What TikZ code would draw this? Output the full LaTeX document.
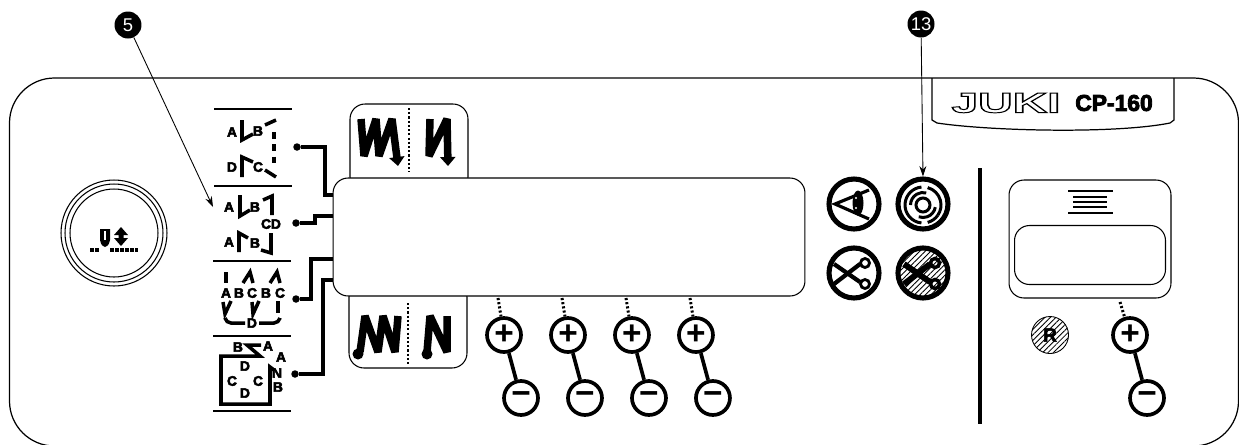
\documentclass[tikz,border=0pt]{standalone}
\usepackage{fontspec}
\setmainfont{Liberation Sans}
\usetikzlibrary{positioning}
\usetikzlibrary{arrows.meta}
\usetikzlibrary{patterns.meta}
\newcommand{\strokedtext}[3][0.3]{\special{pdf:code #2 Tr #1 w}#3\special{pdf:code 0 Tr}}
\tikzset{panel line/.style={line width=0.7pt},}
\tikzset{thin box/.style={rectangle,draw,fill=white,line width=0.6pt,rounded corners=0.3cm,inner sep=0pt},}
\tikzset{knob/.style={circle,draw,fill=white,line width=2.1pt,minimum size=0.68cm,inner sep=0pt,on grid,font=\fontsize{19}{19}\bfseries},}
\tikzset{round icon/.style={circle,draw,line width=2.9pt,minimum size=1cm,inner sep=0pt,on grid},}
\tikzset{badge/.style={circle,fill=black,text=white,minimum size=0.54cm,inner sep=0pt,font=\fontsize{10.5}{10.5}\selectfont},}
\tikzset{strip dot/.style={circle,fill=black,minimum size=0.15cm,inner sep=0pt},}
\tikzset{strip letter/.style={inner sep=0pt,font=\fontsize{7.8}{7.8}\bfseries},}
\tikzset{strip rule/.style={line width=1pt},}
\tikzset{wire/.style={line width=2pt,line join=miter},}
\tikzset{glyph/.style={line width=0.15cm,line join=bevel},}
\tikzset{fine stroke/.style={line width=2pt,line join=miter},}
\tikzset{pointer/.style={line width=0.5pt,-{Stealth[length=0.21cm,width=0.14cm]}},}
\tikzset{dots/.style={line width=1.4pt,dash pattern=on 1.2pt off 1.2pt},}
\tikzset{hatched/.style={pattern={Lines[angle=45,distance=2.2pt,line width=0.5pt]}},}

\begin{document}
\begin{tikzpicture}[x=0.02cm,y=-0.02cm]
     \useasboundingbox (0,0) rectangle (1239,444);

     \draw[panel line,rounded corners=0.9cm] (9.5,78) rectangle (1238.5,446);

     \path[panel line,draw] (932,78) -- (932,120) -- (937,123) .. controls (990,131) and (1115,134) .. (1170,123) -- (1174,120) -- (1174,78);
     \node[font=\fontsize{16}{16}\bfseries] (juki) at (1006,103) {\scalebox{1.7}[1]{\strokedtext[0.55]{1}{JUKI}}};
     \node[font=\fontsize{13}{13}\bfseries] (model) at (1114,103) {\strokedtext[0.5]{2}{CP-160}};

     \node[thin box,minimum width=2.36cm,minimum height=1.76cm] (uppertab) at (409,148) {};
     \node[thin box,minimum width=2.36cm,minimum height=1.72cm] (lowertab) at (408,325) {};
     \node[thin box,minimum width=9.44cm,minimum height=2.36cm] (display) at (569,237) {};
     \draw[dots] (409,108) -- (409,172);
     \draw[dots] (408,303) -- (408,365);

     \draw[glyph,-{Triangle[length=0.18cm,width=0.3cm]}] (361,119) -- (364,156) -- (376,119) -- (379,156) -- (392,119) -- (398,166);
     \draw[glyph,-{Triangle[length=0.18cm,width=0.3cm]}] (430,119) -- (429,156) -- (447,119) -- (448,166);
     \draw[glyph] (360,352) -- (365,316) -- (378,352) -- (383,316) -- (395,352) -- (398,316);
     \draw[glyph] (427,352) -- (430,316) -- (447,352) -- (447,316);
     \fill (358,354) circle (5.5);
     \fill (427,354) circle (5.5);

     \node[badge] (five) at (128,25) {5};
     \node[badge] (thirteen) at (921,24) {13};

     \node[circle,draw,line width=0.6pt,minimum size=2.12cm,inner sep=0pt] (startring) at (114,233) {};
     \node[circle,draw,line width=0.6pt,minimum size=1.96cm,inner sep=0pt] (midring) at (114,233) {};
     \node[circle,draw,line width=0.6pt,minimum size=1.76cm,inner sep=0pt] (innerring) at (114,233) {};
     \fill (100,229) -- (110,229) -- (110,240) .. controls (109,245) and (107,247) .. (105,247) .. controls (103,247) and (101,245) .. (100,240) -- cycle;
     \draw[white,line width=0.6pt] (105,231) -- (105,240);
     \fill (121,227) -- (128,235) -- (123.5,235) -- (123.5,238) -- (128,238) -- (121,246) -- (114,238) -- (118.5,238) -- (118.5,235) -- (114,235) -- cycle;
     \draw[line width=2pt,dash pattern=on 2.2pt off 0.7pt] (90,250) -- (100,250);
     \draw[line width=2pt,dash pattern=on 2.2pt off 0.7pt] (110,250) -- (138,250);

     \draw[strip rule] (214,109) -- (292,109);
     \draw[strip rule] (214,186) -- (292,186);
     \draw[strip rule] (213,261) -- (291,261);
     \draw[strip rule] (213,336) -- (291,336);
     \draw[strip rule] (213,411) -- (291,411);

     \foreach \x/\y/\t [count=\i] in {232/132/A,258/131/B,232/167/D,258/167/C,
       229/207/A,255/207/B,229/242/A,255/243/B,271/224/CD,
       226/293/A,239/293/B,252/293/C,266/293/B,280/293/C,252/323/D,
       238/347/B,268/346/A,281/357/A,277/373/N,278/387/B,245/366/D,232/381/C,258/381/C,245/393/D}
       \node[strip letter] (letter\i) at (\x,\y) {\strokedtext{2}{\t}};

     \draw[fine stroke] (242,120) -- (242,140) -- (253,134);
     \draw[fine stroke] (265,125) -- (276,120);
     \draw[fine stroke,dash pattern=on 4pt off 3pt] (274,132) -- (274,163);
     \draw[fine stroke] (253,162) -- (242,157) -- (242,177);
     \draw[fine stroke] (265,170) -- (276,177);
     \draw[fine stroke] (240,195) -- (240,216) -- (250,210);
     \draw[fine stroke] (263,200) -- (272,196) -- (272,215);
     \draw[fine stroke] (248,238) -- (239,233) -- (239,252);
     \draw[fine stroke] (261,250) -- (271,253) -- (271,233);
     \draw[fine stroke] (226,272) -- (226,283);
     \draw[fine stroke] (243,283) -- (250,272) -- (253,283);
     \draw[fine stroke] (270,283) -- (277,272) -- (280,283);
     \draw[fine stroke] (223,302) -- (225,314) -- (231,301);
     \draw[fine stroke] (252,302) -- (253,314) -- (259,301);
     \draw[fine stroke] (278,301) -- (278,313);
     \draw[fine stroke,rounded corners=0.1cm] (225,318) -- (226,323) -- (245,323);
     \draw[fine stroke,rounded corners=0.1cm] (259,323) -- (279,323) -- (280,318);
     \draw[fine stroke] (261,345) -- (247,345) -- (260,356) -- (221,356) -- (221,404) -- (270,404) -- (270,367) -- (274,370);

     \node[strip dot] (dotone) at (297,147) {};
     \node[strip dot] (dottwo) at (296,223) {};
     \node[strip dot] (dotthree) at (296,299) {};
     \node[strip dot] (dotfour) at (295,374) {};
     \draw[wire] (dotone) -| (325,195) -- (display.west |- 0,195);
     \draw[wire] (dottwo) -| (315,216) -- (display.west |- 0,216);
     \draw[wire] (dotthree) -| (311,259) -- (display.west |- 0,259);
     \draw[wire] (dotfour) -| (323,280) -- (display.west |- 0,280);

     \node[knob] (plusa) at (504,335) {+};
     \node[knob] (plusb) [right = 1.28cm of plusa] {+};
     \node[knob] (plusc) [right = 1.28cm of plusb] {+};
     \node[knob] (plusd) [right = 1.28cm of plusc] {+};
     \node[knob] (minusa) [below right = 1.26cm and 0.34cm of plusa] {−};
     \node[knob] (minusb) [right = 1.28cm of minusa] {−};
     \node[knob] (minusc) [right = 1.28cm of minusb] {−};
     \node[knob] (minusd) [right = 1.28cm of minusc] {−};
     \node[knob] (pluse) at (1130,335) {+};
     \node[knob] (minuse) [below right = 1.26cm and 0.34cm of pluse] {−};
     \path[line width=2.1pt]
     (plusa) edge (minusa)
     (plusb) edge (minusb)
     (plusc) edge (minusc)
     (plusd) edge (minusd)
     (pluse) edge (minuse);
     \draw[dots,line width=1.7pt] (498,298) -- (plusa);
     \draw[dots,line width=1.7pt] (562,298) -- (plusb);
     \draw[dots,line width=1.7pt] (626,298) -- (plusc);
     \draw[dots,line width=1.7pt] (690,298) -- (plusd);

     \node[round icon] (eye) at (854,204) {};
     \node[round icon] (swirl) [right = 1.38cm of eye] {};
     \node[round icon] (scissors) [below = 1.38cm of eye] {};
     \node[round icon,hatched] (noscissors) [below = 1.38cm of swirl] {};

     \draw[line width=1.8pt,line join=miter] (869,190) -- (835,204) -- (869,219);
     \fill (858,203) ellipse (5.5 and 12.5);
     \fill[white] (856,198) circle (1.2);
     \fill[white] (856,208) circle (1.2);

     \draw[line width=1.7pt] (923,205) circle (7);
     \draw[line width=1.7pt] ([shift={(923,205)}]95:18) arc[start angle=95,end angle=265,radius=18];
     \draw[line width=1.7pt] ([shift={(923,205)}]285:18) arc[start angle=285,end angle=395,radius=18];
     \draw[line width=1.7pt] ([shift={(923,205)}]180:12.5) arc[start angle=180,end angle=285,radius=12.5];
     \draw[line width=1.7pt] ([shift={(923,205)}]10:12.5) arc[start angle=10,end angle=110,radius=12.5];
     \draw[line width=1.7pt] ([shift={(923,205)}]35:18) arc[start angle=35,end angle=75,radius=18];

     \draw[line width=2.4pt] (834,264) -- (860,282);
     \draw[line width=2.4pt] (834,284) -- (860,264);
     \draw[line width=1.6pt] (865,263) circle (4.5);
     \draw[line width=1.6pt] (865,284) circle (4.5);
     \draw[line width=3.4pt] (904,264) -- (930,282);
     \draw[line width=3.4pt] (904,284) -- (930,264);
     \draw[line width=2pt] (935,263) circle (4.5);
     \draw[line width=2pt] (935,284) circle (4.5);

     \draw[pointer] (five) -- (213,207);
     \draw[pointer] (thirteen) -- (swirl.north);

     \draw[line width=1.9pt] (980,168) -- (980,424);

     \node[thin box,minimum width=3.24cm,minimum height=2.36cm] (counter) at (1090,239) {};
     \node[thin box,minimum width=3.02cm,minimum height=1.18cm] (readout) at (1090,255) {};
     \draw[line width=1.5pt] (1068,191) -- (1113,191);
     \draw[line width=0.8pt] (1073,197) -- (1107,197);
     \draw[line width=0.8pt] (1073,202) -- (1107,202);
     \draw[line width=0.8pt] (1073,207) -- (1107,207);
     \draw[line width=1.5pt] (1068,213) -- (1113,213);
     \node[circle,draw,line width=0.5pt,hatched,minimum size=0.74cm,inner sep=0pt,font=\fontsize{11}{11}\bfseries] (reset) at (1050,335) {\strokedtext{2}{R}};
     \draw[dots,line width=1.7pt] (1120,302) -- (pluse);
\end{tikzpicture}
\end{document}
